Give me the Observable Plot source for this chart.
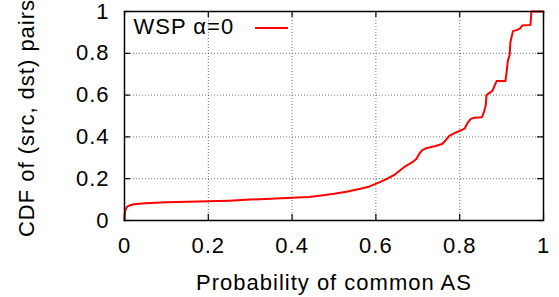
<!DOCTYPE html>
<html>
<head>
<meta charset="utf-8">
<script src="https://cdn.jsdelivr.net/npm/d3@7"></script>
<script src="https://cdn.jsdelivr.net/npm/@observablehq/plot@0.6"></script>
<style>
  html, body { margin: 0; padding: 0; background: #fff; }
</style>
</head>
<body>
<div id="chart"></div>
<script>
const probability = [0, 0.0005, 0.002, 0.006, 0.012, 0.022, 0.05, 0.10, 0.15, 0.20, 0.25, 0.30, 0.35, 0.40, 0.44, 0.47, 0.50, 0.53, 0.563, 0.585, 0.605, 0.625, 0.645, 0.667, 0.69, 0.697, 0.703, 0.710, 0.720, 0.740, 0.758, 0.765, 0.775, 0.790, 0.812, 0.818, 0.826, 0.835, 0.853, 0.858, 0.862, 0.864, 0.872, 0.878, 0.888, 0.909, 0.912, 0.915, 0.919, 0.921, 0.927, 0.937, 0.945, 0.949, 0.969, 0.971, 1.0];
const cdf = [0, 0.03, 0.05, 0.065, 0.072, 0.078, 0.082, 0.087, 0.090, 0.092, 0.095, 0.100, 0.104, 0.109, 0.113, 0.120, 0.128, 0.138, 0.152, 0.163, 0.180, 0.198, 0.220, 0.255, 0.283, 0.295, 0.318, 0.335, 0.346, 0.355, 0.366, 0.380, 0.405, 0.420, 0.440, 0.465, 0.485, 0.492, 0.494, 0.52, 0.55, 0.600, 0.612, 0.620, 0.667, 0.667, 0.71, 0.766, 0.789, 0.853, 0.906, 0.912, 0.920, 0.933, 0.936, 1.0, 1.0];
const xTicks = [0, 0.2, 0.4, 0.6, 0.8, 1];
const yTicks = [0, 0.2, 0.4, 0.6, 0.8, 1];
const seriesName = "WSP α=0";
const xLabel = "Probability of common AS";
const yLabel = "CDF of (src, dst) pairs";

const data = probability.map((p, i) => ({p, c: cdf[i]}));
const fmt = d => String(+d.toFixed(2));
const tickLen = 6;

const chart = Plot.plot({
  width: 559,
  height: 297,
  marginLeft: 124,
  marginRight: 16,
  marginTop: 11,
  marginBottom: 77,
  style: {fontFamily: "'Liberation Sans', Arial, sans-serif", fontSize: "22px", letterSpacing: "1px", color: "#000", background: "#fff"},
  x: {domain: [0, 1]},
  y: {domain: [0, 1]},
  marks: [
    Plot.gridX(xTicks.filter(d => d > 0 && d < 1), {stroke: "#000", strokeOpacity: 0.55, strokeDasharray: "1,2", strokeWidth: 1}),
    Plot.gridY(yTicks.filter(d => d > 0 && d < 1), {stroke: "#000", strokeOpacity: 0.55, strokeDasharray: "1,2", strokeWidth: 1}),
    Plot.axisX(xTicks, {tickSize: 0, tickPadding: 17, tickFormat: fmt, label: null, fontSize: 22}),
    Plot.axisY(yTicks, {tickSize: 0, tickPadding: 15, tickFormat: fmt, label: null, fontSize: 22}),
    Plot.tickX(xTicks, {x: d => d, insetTop: 209 - tickLen, stroke: "#000", strokeWidth: 1.2}),
    Plot.tickX(xTicks, {x: d => d, insetBottom: 209 - tickLen, stroke: "#000", strokeWidth: 1.2}),
    Plot.tickY(yTicks, {y: d => d, insetRight: 419 - tickLen, stroke: "#000", strokeWidth: 1.2}),
    Plot.tickY(yTicks, {y: d => d, insetLeft: 419 - tickLen, stroke: "#000", strokeWidth: 1.2}),
    Plot.line(data, {x: "p", y: "c", stroke: "#ff0000", strokeWidth: 2, curve: "linear"}),
    Plot.frame({stroke: "#000", strokeWidth: 1.5}),
    Plot.text([seriesName], {frameAnchor: "top-left", textAnchor: "start", lineAnchor: "bottom", dx: 9, dy: 22, fill: "#000", fontSize: 22, letterSpacing: "2px"}),
    (index, scales, values, dims) => {
      const g = d3.create("svg:g");
      g.append("line")
        .attr("x1", dims.marginLeft + 131).attr("x2", dims.marginLeft + 164)
        .attr("y1", dims.marginTop + 17).attr("y2", dims.marginTop + 17)
        .attr("stroke", "#ff0000").attr("stroke-width", 2);
      return g.node();
    },
    Plot.text([xLabel], {frameAnchor: "bottom", lineAnchor: "bottom", dy: 69, fill: "#000", fontSize: 22}),
    Plot.text([yLabel], {frameAnchor: "left", textAnchor: "middle", rotate: -90, lineAnchor: "bottom", dx: -91, dy: 2, fill: "#000", fontSize: 22})
  ]
});
document.getElementById("chart").appendChild(chart);
</script>
</body>
</html>
